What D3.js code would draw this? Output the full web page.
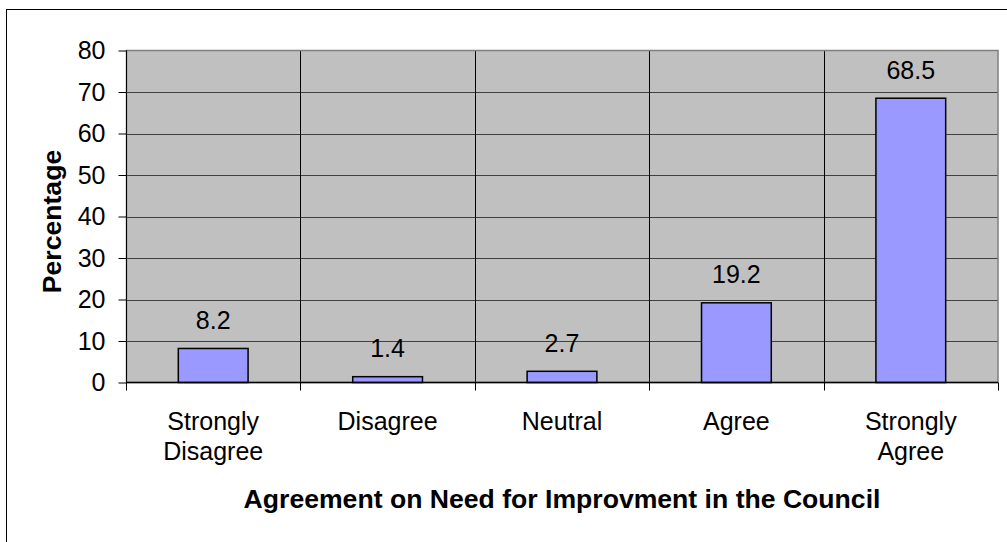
<!DOCTYPE html>
<html>
<head>
<meta charset="utf-8">
<script src="https://cdn.jsdelivr.net/npm/d3@7"></script>
<style>
html, body { margin: 0; padding: 0; background: #fff; }
svg { display: block; font-family: "Liberation Sans", Arial, sans-serif; }
</style>
</head>
<body>
<svg id="chart" width="1007" height="542"></svg>
<script>
const categories = [["Strongly", "Disagree"], ["Disagree"], ["Neutral"], ["Agree"], ["Strongly", "Agree"]];
const values = [8.2, 1.4, 2.7, 19.2, 68.5];
const yTicks = [0, 10, 20, 30, 40, 50, 60, 70, 80];
const xTitle = "Agreement on Need for Improvment in the Council";
const yTitle = "Percentage";

(function () {
const svg = d3.select("#chart");
const pL = 126, pR = 998, pT = 50.5, pB = 382.5;
const fs = "25px", fsb = "26.6px";

// outer frame (extends beyond view on right/bottom)
svg.append("rect").attr("x", 6.5).attr("y", 9.5).attr("width", 1100).attr("height", 600)
  .attr("fill", "#fff").attr("stroke", "#000").attr("stroke-width", 1);

const idx = categories.map((d, i) => i);
const x = d3.scaleBand().domain(idx).range([pL, pR]).paddingInner(0).paddingOuter(0);
const y = d3.scaleLinear().domain([0, 80]).range([pB, pT]);

// plot background
svg.append("rect").attr("x", pL).attr("y", pT).attr("width", pR - pL).attr("height", pB - pT)
  .attr("fill", "#c0c0c0");

// horizontal gridlines
svg.append("g").selectAll("line").data(yTicks.filter(t => t > 0 && t < 80)).join("line")
  .attr("x1", pL).attr("x2", pR)
  .attr("y1", d => Math.round(y(d)) + 0.5).attr("y2", d => Math.round(y(d)) + 0.5)
  .attr("stroke", "#404040").attr("stroke-width", 1.2);

// vertical gridlines between categories
svg.append("g").selectAll("line").data(idx.slice(1)).join("line")
  .attr("x1", d => Math.round(x(d)) + 0.5).attr("x2", d => Math.round(x(d)) + 0.5)
  .attr("y1", pT).attr("y2", pB)
  .attr("stroke", "#000").attr("stroke-width", 1);

// plot border
svg.append("rect").attr("x", pL + 0.5).attr("y", pT).attr("width", pR - pL - 0.5).attr("height", pB - pT)
  .attr("fill", "none").attr("stroke", "#808080").attr("stroke-width", 1.5);

// bars
const bw = x.bandwidth() / 2.5;
svg.append("g").selectAll("rect").data(values).join("rect")
  .attr("x", (d, i) => x(i) + (x.bandwidth() - bw) / 2)
  .attr("y", d => y(d))
  .attr("width", bw)
  .attr("height", d => y(0) - y(d))
  .attr("fill", "#9999ff").attr("stroke", "#000").attr("stroke-width", 1.5);

// value labels
svg.append("g").selectAll("text").data(values).join("text")
  .attr("x", (d, i) => x(i) + x.bandwidth() / 2)
  .attr("y", d => y(d) - 19.5)
  .attr("text-anchor", "middle").attr("font-size", fs).attr("fill", "#000")
  .text(d => d.toFixed(1));

// y axis
const yAxis = d3.axisLeft(y).tickValues(yTicks).tickSize(8).tickPadding(13).tickFormat(d3.format("d"));
const gy = svg.append("g").attr("transform", `translate(${pL + 0.5},0)`).call(yAxis);
gy.select(".domain").attr("stroke", "#000").attr("d", `M0,${pT}V${pB}`);
gy.selectAll(".tick line").attr("stroke", "#000");
gy.selectAll(".tick text").attr("font-size", fs).attr("font-family", "Liberation Sans, Arial, sans-serif").attr("fill", "#000");

// x axis line and boundary ticks
svg.append("line").attr("x1", pL).attr("x2", pR).attr("y1", pB).attr("y2", pB)
  .attr("stroke", "#000").attr("stroke-width", 1.5);
const bounds = idx.map(i => x(i)).concat([pR]);
svg.append("g").selectAll("line").data(bounds).join("line")
  .attr("x1", d => Math.round(d) + 0.5).attr("x2", d => Math.round(d) + 0.5)
  .attr("y1", pB).attr("y2", pB + 8)
  .attr("stroke", "#000").attr("stroke-width", 1);

// category labels
const cl = svg.append("g").selectAll("text").data(categories).join("text")
  .attr("text-anchor", "middle").attr("font-size", fs).attr("fill", "#000");
cl.each(function(d, i) {
  const t = d3.select(this);
  d.forEach((line, j) => {
    t.append("tspan").attr("x", x(i) + x.bandwidth() / 2).attr("y", 430 + j * 30).text(line);
  });
});

// axis titles
svg.append("text").attr("x", (pL + pR) / 2).attr("y", 508)
  .attr("text-anchor", "middle").attr("font-size", fsb).attr("font-weight", "bold").text(xTitle);
svg.append("text").attr("transform", `translate(61,${(pT + pB) / 2 + 5}) rotate(-90)`)
  .attr("text-anchor", "middle").attr("font-size", fsb).attr("font-weight", "bold").text(yTitle);
})();
</script>
</body>
</html>
